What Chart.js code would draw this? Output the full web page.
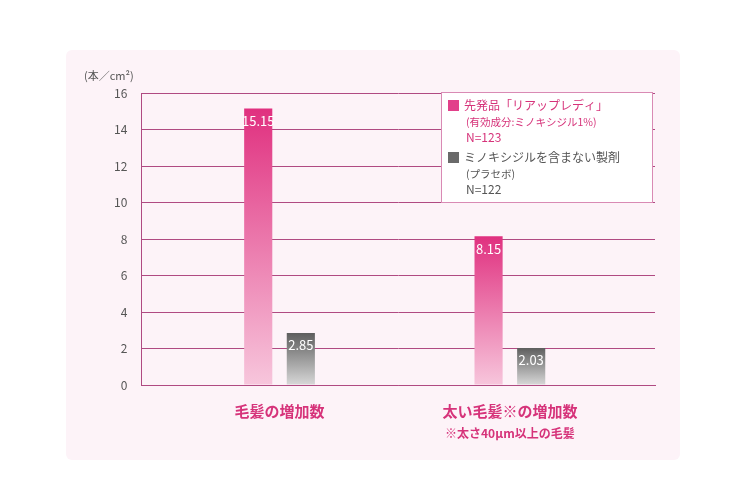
<!DOCTYPE html>
<html><head><meta charset="utf-8">
<script src="https://cdn.jsdelivr.net/npm/chart.js@4"></script>
<style>
html,body{margin:0;padding:0;background:#fff;}
#wrap{position:absolute;left:0;top:0;width:750px;height:500px;}
#card{position:absolute;left:66px;top:50px;width:614px;height:410px;background:#fdf3f8;border-radius:6px;}
canvas{position:absolute;left:0;top:0;}
</style></head>
<body><div id="wrap"><div id="card"></div><canvas id="c" width="750" height="500"></canvas></div>
<script>
const categories = ["毛髪の増加数", "太い毛髪※の増加数"];
const categoryNotes = ["", "※太さ40μm以上の毛髪"];
const productValues = [15.15, 8.15];
const placeboValues = [2.85, 2.03];
const yTicks = [0, 2, 4, 6, 8, 10, 12, 14, 16];
const legend1 = ["先発品「リアップレディ」", "(有効成分:ミノキシジル1%)", "N=123"];
const legend2 = ["ミノキシジルを含まない製剤", "(プラセボ)", "N=122"];
const FONT = '"Noto Sans CJK JP", "Noto Sans", sans-serif';
const PINK = '#d6337a', GRID = '#b04a82';

function grad(ctx, top, bot){
  const ch = ctx.chart; const a = ch.chartArea; if(!a || ctx.raw==null) return top;
  const yTop = ch.scales.y.getPixelForValue(ctx.raw.y);
  const g = ch.ctx.createLinearGradient(0, yTop, 0, a.bottom);
  g.addColorStop(0, top); g.addColorStop(1, bot); return g;
}
const overlay = {
  id:'overlay',
  afterDatasetsDraw(ch){
    const c = ch.ctx; const xs = ch.scales.x;
    c.save();
    c.fillStyle='#fff'; c.font='13px '+FONT; c.textAlign='center'; c.textBaseline='top';
    ch.data.datasets.forEach((ds,i)=>{
      ch.getDatasetMeta(i).data.forEach((b,j)=>{ c.fillText(ds.data[j].y.toFixed(2), b.x, b.y+6); });
    });
    c.fillStyle='#555'; c.font='11px '+FONT; c.textAlign='left'; c.textBaseline='alphabetic';
    c.fillText('(本／cm²)', 84, 80);
    categories.forEach((t,i)=>{
      const x = xs.getPixelForValue(i);
      c.fillStyle=PINK; c.textAlign='center'; c.font='bold 15px '+FONT;
      c.fillText(t, x, 417);
      if(categoryNotes[i]){ c.font='bold 12px '+FONT; c.fillText(categoryNotes[i], x, 438); }
    });
    const lx=441, ly=92, lw=211, lh=110;
    c.fillStyle='#fff'; c.fillRect(lx,ly,lw,lh);
    c.strokeStyle='#d98ab4'; c.lineWidth=1; c.strokeRect(lx+0.5,ly+0.5,lw,lh);
    c.textAlign='left'; c.font='12px '+FONT;
    c.fillStyle='#e2408a'; c.fillRect(448,100,11,11);
    c.fillStyle=PINK; c.fillText(legend1[0],464,110);
    c.font='10.5px '+FONT; c.fillText(legend1[1],466,126);
    c.font='12px '+FONT; c.fillText(legend1[2],466,142);
    c.fillStyle='#6a6a6a'; c.fillRect(448,152,11,11);
    c.fillStyle='#555'; c.fillText(legend2[0],464,162);
    c.font='10.5px '+FONT; c.fillText(legend2[1],466,178);
    c.font='12px '+FONT; c.fillText(legend2[2],466,194);
    c.restore();
  }
};
new Chart(document.getElementById('c'), {
  type:'bar',
  data:{ datasets:[
    {label:legend1[0], data:productValues.map((v,i)=>({x:i,y:v})), backgroundColor:ctx=>grad(ctx,'#e0307f','#f7c6dc')},
    {label:legend2[0], data:placeboValues.map((v,i)=>({x:i,y:v})), backgroundColor:ctx=>grad(ctx,'#5e5e5e','#d8d8d8')}
  ]},
  options:{
    responsive:false, animation:false,
    layout:{padding:{left:100,right:95,top:93,bottom:107}},
    datasets:{bar:{categoryPercentage:0.74, barPercentage:0.66}},
    plugins:{legend:{display:false}, tooltip:{enabled:false}},
    scales:{
      x:{type:'linear', min:-0.6, max:1.63, offset:false, grid:{display:false}, border:{color:GRID}, ticks:{display:false}},
      y:{min:0,max:16, afterBuildTicks:s=>{s.ticks=yTicks.map(v=>({value:v}));},
         grid:{color:GRID, drawTicks:false}, border:{color:GRID},
         ticks:{color:'#555', font:{size:12,family:FONT}, padding:14}}
    }
  },
  plugins:[overlay]
});
</script></body></html>
